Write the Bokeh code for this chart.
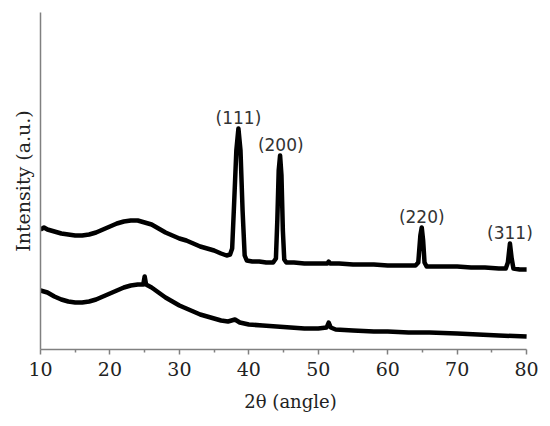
from bokeh.plotting import figure
from bokeh.models import Range1d, FixedTicker, ColumnDataSource, LabelSet
from bokeh.core.properties import value
from bokeh.embed import file_html
from bokeh.resources import INLINE

# ---- data ----
upper_x = [10.0, 10.5, 11, 12, 13, 14, 15, 16, 17, 18, 19, 20, 21, 22, 23, 24, 25, 26, 27, 28,
           29, 30, 31, 32, 33, 34, 35, 36, 36.8, 37.3, 37.6, 37.9, 38.2, 38.5, 38.8, 39.1, 39.4,
           39.7, 40.5, 41.5, 42.5, 43.5, 43.9, 44.1, 44.3, 44.5, 44.7, 44.9, 45.1, 45.4, 46.5,
           48, 50, 51.3, 51.5, 51.7, 53, 55, 58, 60, 62, 64.0, 64.4, 64.7, 64.9, 65.1, 65.3,
           65.6, 68, 70, 72, 74, 76, 77.0, 77.3, 77.6, 77.85, 78.1, 79, 80]
upper_y = [120, 122, 120, 118, 116, 115, 114, 114, 115, 117, 120, 123, 126, 128, 129, 129, 127,
           125, 121, 117, 114, 111, 109, 106, 103, 101, 99, 96, 94, 95, 101, 149, 199, 221, 199,
           139, 94, 89, 88, 88, 87, 87, 91, 129, 179, 194, 174, 119, 90, 87, 87, 86, 86, 86, 88,
           86, 86, 85, 85, 84, 84, 84, 87, 114, 122, 109, 87, 83, 83, 83, 82, 82, 81, 81, 87,
           106, 91, 81, 80, 80]

lower_x = [10, 11, 12, 13, 14, 15, 16, 17, 18, 19, 20, 21, 22, 23, 24, 24.8, 25.0, 25.2, 26, 27,
           28, 29, 30, 31, 32, 33, 34, 35, 36, 37, 38, 38.7, 40, 42, 44, 46, 48, 50, 51.2, 51.5,
           51.8, 52.5, 55, 58, 60, 63, 66, 70, 73, 76, 80]
lower_y = [59, 57, 53, 50, 48, 47, 47, 48, 50, 53, 56, 59, 62, 64, 65, 65, 73, 65, 62, 57, 52,
           48, 44, 41, 38, 35, 33, 31, 29, 28, 30, 27, 25, 24, 23, 22, 21, 21, 22, 27, 22, 20,
           19, 18, 18, 17, 17, 16, 15, 14, 13]

peak_labels = ["(111)", "(200)", "(220)", "(311)"]
peak_x = [38.5, 44.6, 64.9, 77.6]
peak_y = [221, 194, 122, 106]

x_ticks = [10, 20, 30, 40, 50, 60, 70, 80]
x_minor = [15, 25, 35, 45, 55, 65, 75]

p = figure(width=550, height=426, output_backend="svg", toolbar_location=None,
           x_range=Range1d(10, 82), y_range=Range1d(0, 337),
           min_border_left=40, min_border_right=10, min_border_top=12, min_border_bottom=77)
p.outline_line_color = None
p.xgrid.visible = False
p.ygrid.visible = False
p.background_fill_color = "white"
p.border_fill_color = "white"

p.line(upper_x, upper_y, line_color="black", line_width=4.5, line_join="round")
p.line(lower_x, lower_y, line_color="black", line_width=4.5, line_join="round")

src = ColumnDataSource(dict(x=peak_x, y=peak_y, t=peak_labels))
labels = LabelSet(x="x", y="y", text="t", source=src, text_align="center",
                  text_baseline="bottom", text_font=value("DejaVu Sans"),
                  text_font_size=value("17px"), text_color="#333333", y_offset=1)
p.add_layout(labels)

axis_col = "#808080"
xa = p.xaxis[0]
xa.bounds = (10, 80)
xa.ticker = FixedTicker(ticks=x_ticks, minor_ticks=x_minor)
xa.axis_line_color = axis_col
xa.axis_line_width = 1.5
xa.major_tick_line_color = axis_col
xa.major_tick_line_width = 1.5
xa.minor_tick_line_color = axis_col
xa.minor_tick_line_width = 1.5
xa.major_tick_in = 0
xa.major_tick_out = 5
xa.minor_tick_in = 0
xa.minor_tick_out = 3
xa.major_label_text_font = "DejaVu Serif"
xa.major_label_text_font_size = "19px"
xa.major_label_text_color = "#222222"
xa.major_label_standoff = 7
xa.axis_label = "2θ (angle)"
xa.axis_label_text_font = "DejaVu Serif"
xa.axis_label_text_font_size = "18px"
xa.axis_label_text_font_style = "normal"
xa.axis_label_text_color = "#222222"
xa.axis_label_standoff = 12

ya = p.yaxis[0]
ya.ticker = FixedTicker(ticks=[])
ya.axis_line_color = axis_col
ya.axis_line_width = 1.5
ya.major_tick_line_color = None
ya.minor_tick_line_color = None
ya.axis_label = "Intensity (a.u.)"
ya.axis_label_text_font = "DejaVu Serif"
ya.axis_label_text_font_size = "19px"
ya.axis_label_text_font_style = "normal"
ya.axis_label_text_color = "#222222"
ya.axis_label_standoff = 7

open("out.html", "w").write(file_html(p, INLINE))
